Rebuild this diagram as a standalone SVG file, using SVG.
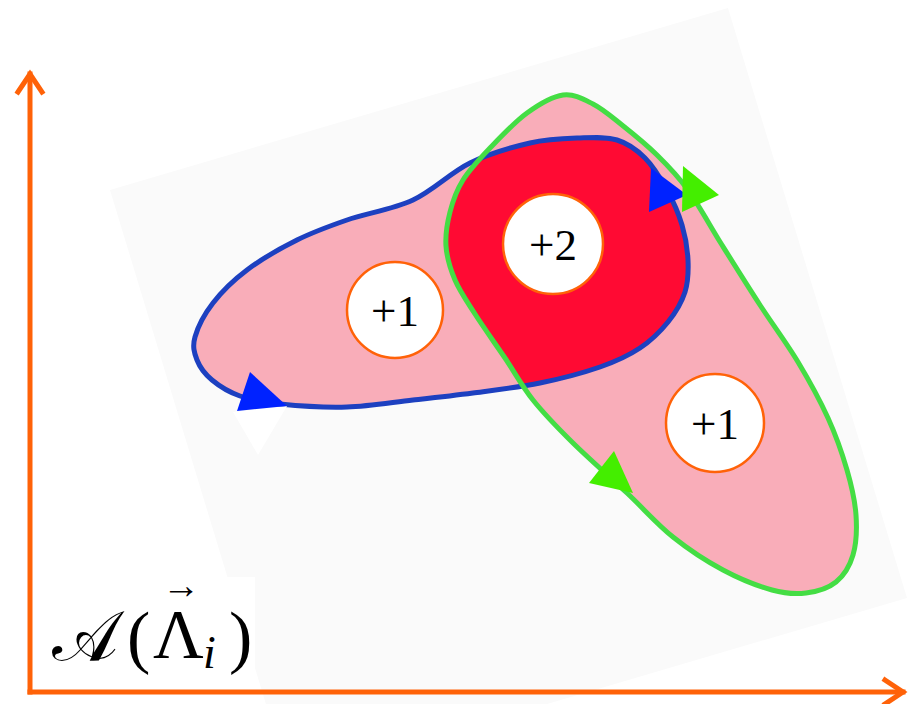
<svg xmlns="http://www.w3.org/2000/svg" width="917" height="704" viewBox="0 0 917 704">
<style>
.axis{stroke:#ff6208;stroke-width:5;fill:none;stroke-linecap:square}
.badge circle{fill:#fff;stroke:#ff6208;stroke-width:2.5}
.badge text{font-family:"Liberation Serif","DejaVu Serif",serif;font-size:45px;fill:#000;text-anchor:middle}
.lbl{font-family:"Liberation Serif","DejaVu Serif",serif;fill:#000}
</style>
<defs>
<path id="blueP" d="M 195 337 C 197.7 327.5, 204.3 314.2, 213 303 C 221.7 291.8, 233 280.5, 247 270 C 261 259.5, 280.3 248.3, 297 240 C 313.7 231.7, 327.7 226.7, 347 220 C 366.3 213.3, 392.5 209.5, 413 200 C 433.5 190.5, 450.5 172.5, 470 163 C 489.5 153.5, 511.7 147.2, 530 143 C 548.3 138.8, 565.5 138.5, 580 138 C 594.5 137.5, 606.2 136.7, 617 140 C 627.8 143.3, 636.7 149.7, 645 158 C 653.3 166.3, 660.8 178.8, 667 190 C 673.2 201.2, 678.5 213.3, 682 225 C 685.5 236.7, 687.5 248.8, 688 260 C 688.5 271.2, 688.3 281.7, 685 292 C 681.7 302.3, 675.5 312.7, 668 322 C 660.5 331.3, 651.3 340.5, 640 348 C 628.7 355.5, 616.7 361.2, 600 367 C 583.3 372.8, 561.2 378.7, 540 383 C 518.8 387.3, 494.2 390.2, 473 393 C 451.8 395.8, 434 397.7, 413 400 C 392 402.3, 369.2 406.3, 347 407 C 324.8 407.7, 297.8 405.8, 280 404 C 262.2 402.2, 251.3 400, 240 396 C 228.7 392, 219.2 386, 212 380 C 204.8 374, 199.8 367.2, 197 360 C 194.2 352.8, 192.3 346.5, 195 337 Z"/>
<path id="greenP" d="M 563 95 C 574 93.5, 583.2 99, 593 104 C 602.8 109, 611.3 116.5, 622 125 C 632.7 133.5, 646 144.2, 657 155 C 668 165.8, 677.2 175, 688 190 C 698.8 205, 710 225.8, 722 245 C 734 264.2, 747.3 285.5, 760 305 C 772.7 324.5, 786.7 343.2, 798 362 C 809.3 380.8, 819.8 400, 828 418 C 836.2 436, 842.3 453.8, 847 470 C 851.7 486.2, 855 500.8, 856 515 C 857 529.2, 856.3 543.8, 853 555 C 849.7 566.2, 843.8 575.7, 836 582 C 828.2 588.3, 816.7 591.7, 806 593 C 795.3 594.3, 785.8 593.8, 772 590 C 758.2 586.2, 739.5 578.8, 723 570 C 706.5 561.2, 689 549.8, 673 537 C 657 524.2, 643.7 508.7, 627 493 C 610.3 477.3, 588.7 458.5, 573 443 C 557.3 427.5, 544.3 414.2, 533 400 C 521.7 385.8, 514.7 372.3, 505 358 C 495.3 343.7, 483.3 327, 475 314 C 466.7 301, 459.8 291.3, 455 280 C 450.2 268.7, 446.8 257.3, 446 246 C 445.2 234.7, 447.2 223, 450 212 C 452.8 201, 456.3 190.7, 463 180 C 469.7 169.3, 479.3 159.2, 490 148 C 500.7 136.8, 514.8 121.8, 527 113 C 539.2 104.2, 552 96.5, 563 95 Z"/>
<clipPath id="gclip"><use href="#greenP"/></clipPath>
</defs>
<rect width="917" height="704" fill="#fff"/>
<polygon points="110,190 728,8 907,598 289,780" fill="#fafafa"/>
<g id="regions">
<use href="#blueP" fill="#f9adb9"/>
<use href="#greenP" fill="#f9adb9"/>
<use href="#blueP" fill="#ff0a33" clip-path="url(#gclip)"/>
</g>
<g id="connectors">
<use id="blue-loop" href="#blueP" fill="none" stroke="#1d40c0" stroke-width="5"/>
<use id="green-loop" href="#greenP" fill="none" stroke="#44dd44" stroke-width="5"/>
<polygon points="233,412 287,406 258,455" fill="#fff"/>
<polygon points="250,372 287,406 237,411" fill="#0022ff"/>
<polygon points="651,168 687,195 649,212" fill="#0022ff"/>
<polygon points="683,166 719,195 682,212" fill="#44ee00"/>
<polygon points="614,451 633,493 589,483" fill="#44ee00"/>
</g>
<g id="n1" class="badge"><circle cx="395" cy="310" r="48"/><text x="395" y="326">+1</text></g>
<g id="n2" class="badge"><circle cx="553" cy="244" r="50"/><text x="553" y="260">+2</text></g>
<g id="n3" class="badge"><circle cx="715" cy="423" r="49"/><text x="715" y="439">+1</text></g>
<g id="axes">
<rect x="33" y="577" width="222" height="112" fill="#fff"/>
<line class="axis" x1="30" y1="692" x2="30" y2="74"/>
<polyline class="axis" points="18,92 30,74 42,92"/>
<line class="axis" x1="30" y1="692" x2="903" y2="692"/>
<polyline class="axis" points="885,680 903,692 885,704"/>
</g>
<g id="label">
<text class="lbl" font-size="70"><tspan x="52" y="660">𝒜</tspan><tspan x="127" y="660">(</tspan><tspan x="153" y="658">Λ</tspan><tspan x="162" y="598" font-size="38">→</tspan><tspan x="203" y="668" font-size="46" font-style="italic">i</tspan><tspan x="229" y="660">)</tspan></text>
</g>
</svg>
